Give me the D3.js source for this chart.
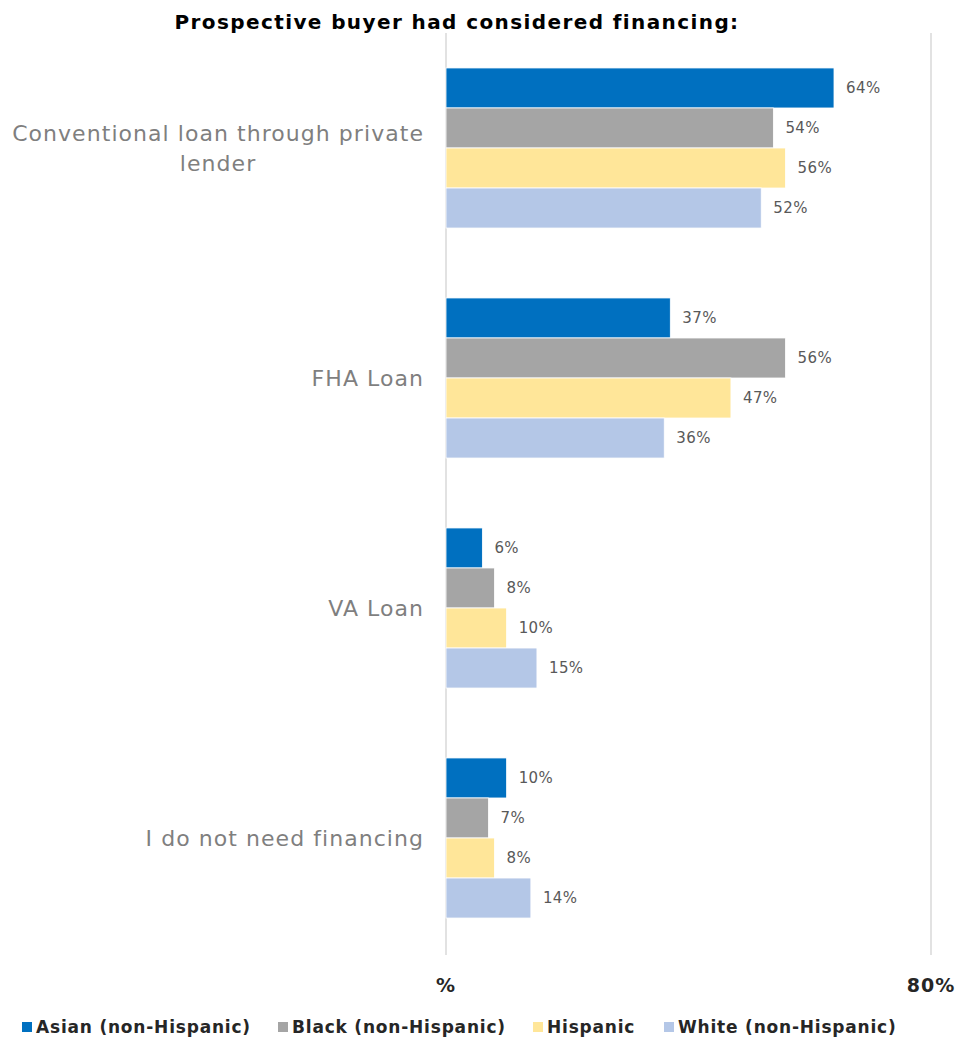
<!DOCTYPE html>
<html><head><meta charset="utf-8">
<script src="https://cdn.jsdelivr.net/npm/d3@7"></script>
<style>body{margin:0;background:#fff}svg{display:block}</style>
</head><body>
<svg id="chart" width="962" height="1041"></svg>
<script>
const title = "Prospective buyer had considered financing:";
const categories = ["Conventional loan through private lender", "FHA Loan", "VA Loan", "I do not need financing"];
const series = ["Asian (non-Hispanic)", "Black (non-Hispanic)", "Hispanic", "White (non-Hispanic)"];
const asian = [64, 37, 6, 10];
const black = [54, 56, 8, 7];
const hispanic = [56, 47, 10, 8];
const white = [52, 36, 15, 14];
const colors = ["#0070C0", "#A5A5A5", "#FFE699", "#B4C7E7"];
const tickValues = [0, 80];
const tickLabels = ["%", "80%"];

const values = [asian, black, hispanic, white];
const font = "'DejaVu Sans', 'Open Sans', sans-serif";
const svg = d3.select("#chart");

const x = d3.scaleLinear().domain([0, 80]).range([446, 931]);
const y = d3.scaleBand().domain(categories).range([33, 953]).paddingInner(0.304).paddingOuter(0.152);
const ySub = d3.scaleBand().domain(series).range([0, y.bandwidth()]);

// title
svg.append("text").attr("x", 457).attr("y", 29).attr("text-anchor", "middle")
  .attr("font-family", font).attr("font-weight", 700).attr("font-size", 20).attr("letter-spacing", 1.4).attr("fill", "#000")
  .text(title);

// gridlines
svg.append("g").selectAll("line").data(tickValues).join("line")
  .attr("x1", d => x(d)).attr("x2", d => x(d)).attr("y1", 33).attr("y2", 955)
  .attr("stroke", "#D9D9D9").attr("stroke-width", 1.5);

// bars
const groups = svg.append("g").selectAll("g").data(categories).join("g")
  .attr("transform", c => `translate(0,${y(c)})`);
groups.each(function(c, ci) {
  const g = d3.select(this);
  series.forEach((s, si) => {
    const v = values[si][ci];
    g.append("rect").attr("x", x(0)).attr("y", ySub(s)).attr("width", x(v) - x(0)).attr("height", ySub.bandwidth())
      .attr("fill", colors[si]).attr("stroke", "#fff").attr("stroke-width", 0.8);
    g.append("text").attr("x", x(v) + 12).attr("y", ySub(s) + ySub.bandwidth() / 2).attr("dy", "0.35em")
      .attr("font-family", font).attr("font-size", 15).attr("letter-spacing", 0.4).attr("fill", "#595959").text(v + "%");
  });
});

// category labels
const catG = svg.append("g");
const labelRight = 424;
categories.forEach((c, i) => {
  const cy = y(c) + y.bandwidth() / 2;
  let lines = [c];
  if (c.length > 30) {
    const words = c.split(" ");
    lines = [words.slice(0, 4).join(" "), words.slice(4).join(" ")];
  }
  const t = catG.append("text").attr("font-family", font).attr("font-size", 22).attr("letter-spacing", 1.05).attr("fill", "#7F7F7F");
  if (lines.length === 1) {
    t.attr("x", labelRight).attr("y", cy).attr("dy", "0.35em").attr("text-anchor", "end").text(lines[0]);
  } else {
    t.attr("text-anchor", "middle");
    lines.forEach((l, li) => {
      t.append("tspan").attr("x", 0).attr("y", cy + (li - (lines.length - 1) / 2) * 30).attr("dy", "0.35em").text(l);
    });
    const w = t.node().getBBox().width;
    t.selectAll("tspan").attr("x", labelRight - w / 2);
  }
});

// axis tick labels
svg.append("g").selectAll("text").data(tickValues).join("text")
  .attr("x", d => x(d)).attr("y", 985).attr("dy", "0.35em").attr("text-anchor", "middle")
  .attr("font-family", font).attr("font-weight", 700).attr("font-size", 19).attr("letter-spacing", 1).attr("fill", "#262626")
  .text((d, i) => tickLabels[i]);

// legend
const legendX = [22, 278, 533, 664];
const lg = svg.append("g").selectAll("g").data(series).join("g")
  .attr("transform", (d, i) => `translate(${legendX[i]},1027)`);
lg.append("rect").attr("x", 0).attr("y", -5).attr("width", 10).attr("height", 10).attr("fill", (d, i) => colors[i]);
lg.append("text").attr("x", 14).attr("dy", "0.35em").attr("font-family", font).attr("font-weight", 700)
  .attr("font-size", 17).attr("letter-spacing", 0.8).attr("fill", "#262626").text(d => d);
</script>
</body></html>
